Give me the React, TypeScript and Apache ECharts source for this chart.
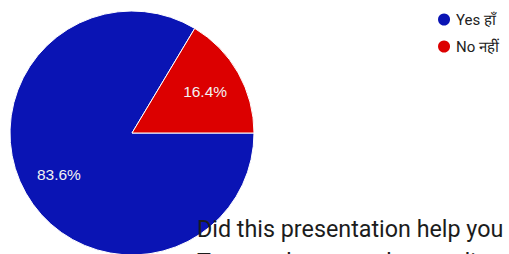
import React, { useEffect, useRef } from "react";
import * as echarts from "echarts";

const categories = ["Yes हाँ", "No नहीं"];
const values = [83.6, 16.4];
const colors = ["#0a14b4", "#dc0000"];
const titleLines = ["Did this presentation help you", "To get a better understanding of life"];

export default function App() {
  const ref = useRef<HTMLDivElement>(null);
  useEffect(() => {
    if (!ref.current) return;
    const chart = echarts.init(ref.current, undefined, { renderer: "svg" });
    const data = categories.map((name, i) => ({ name, value: values[i] }));
    chart.setOption({
      animation: false,
      color: colors,
      legend: {
        orient: "vertical",
        right: 5,
        top: 5,
        icon: "circle",
        itemWidth: 14,
        itemHeight: 14,
        itemGap: 8,
        textStyle: { fontFamily: "Roboto", fontSize: 15, color: "#222", height: 19, lineHeight: 19 },
        data: categories,
      },
      series: [
        {
          type: "pie",
          center: [132, 133],
          radius: [0, 122],
          startAngle: 0,
          clockwise: true,
          label: { show: false },
          labelLine: { show: false },
          itemStyle: { borderColor: "#ffffff", borderWidth: 1 },
          data,
        },
        {
          type: "pie",
          center: [132, 133],
          radius: [0, 162],
          startAngle: 0,
          clockwise: true,
          silent: true,
          percentPrecision: 1,
          label: {
            show: true,
            position: "inside",
            formatter: "{d}%",
            fontFamily: "Arial",
            fontSize: 15.5,
            color: "#f2f2f2",
          },
          labelLine: { show: false },
          itemStyle: { color: "transparent", borderWidth: 0 },
          emphasis: { disabled: true },
          legendHoverLink: false,
          data: data.map((d) => ({ ...d, itemStyle: { color: "transparent" } })),
        },
      ],
      graphic: [
        {
          type: "text",
          left: 197,
          top: 217,
          z: 100,
          style: { text: titleLines[0], fontFamily: "Roboto", fontSize: 23.3, fill: "#1c1c1c" },
        },
        {
          type: "text",
          left: 197,
          top: 250,
          z: 100,
          style: { text: titleLines[1], fontFamily: "Roboto", fontSize: 23.3, fill: "#1c1c1c" },
        },
      ],
    });
    return () => chart.dispose();
  }, []);
  return <div ref={ref} style={{ width: 509, height: 254, position: "absolute", left: 0, top: 0 }} />;
}
